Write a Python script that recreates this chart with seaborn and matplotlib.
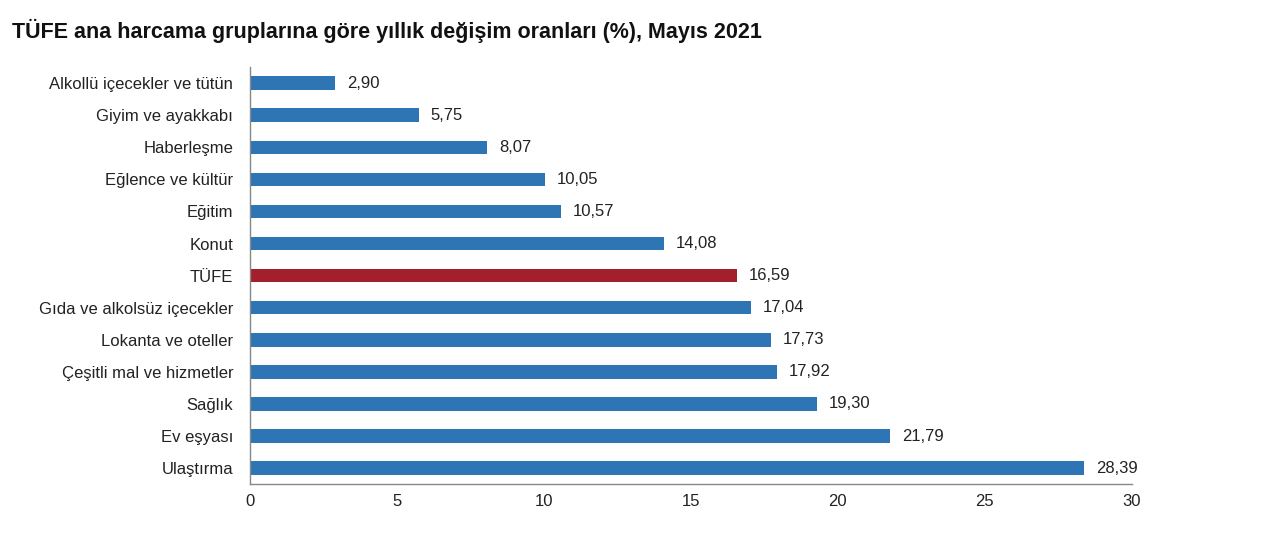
import pandas as pd
import numpy as np
import seaborn as sns
import matplotlib.pyplot as plt

categories = ["Alkollü içecekler ve tütün", "Giyim ve ayakkabı", "Haberleşme",
              "Eğlence ve kültür", "Eğitim", "Konut", "TÜFE",
              "Gıda ve alkolsüz içecekler", "Lokanta ve oteller",
              "Çeşitli mal ve hizmetler", "Sağlık", "Ev eşyası", "Ulaştırma"]
values = [2.90, 5.75, 8.07, 10.05, 10.57, 14.08, 16.59,
          17.04, 17.73, 17.92, 19.30, 21.79, 28.39]
x_ticks = [0, 5, 10, 15, 20, 25, 30]

blue = "#2E75B6"
red = "#A31F2B"

sns.set_style("white")
plt.rcParams['font.family'] = ['Liberation Sans', 'DejaVu Sans']

df = pd.DataFrame({"group": categories, "rate": values})
df["kind"] = np.where(df["group"] == "TÜFE", "tufe", "other")

fig = plt.figure(figsize=(12.8, 5.54), dpi=100)
ax = fig.add_axes([0.1953, 0.126, 0.6887, 0.753])

sns.barplot(data=df, y="group", x="rate", hue="kind", dodge=False,
            palette={"tufe": red, "other": blue}, width=0.42, saturation=1,
            legend=False, ax=ax, edgecolor="none")

for i, v in enumerate(values):
    ax.text(v + 0.4, i, f"{v:.2f}".replace(".", ","), va="center", ha="left",
            fontsize=12, color="#222222")

ax.set_xlim(0, 30)
ax.set_ylim(len(categories) - 0.5, -0.5)
ax.set_xticks(x_ticks)
ax.set_xticklabels([str(t) for t in x_ticks], fontsize=12, color="#222222")
ax.set_yticks(range(len(categories)))
ax.set_yticklabels(categories, fontsize=12, color="#222222")
ax.set_xlabel("")
ax.set_ylabel("")

# small ticks between the categories on the y axis
ax.set_yticks(np.arange(-0.5, len(categories), 1), minor=True)
ax.tick_params(axis="y", which="major", length=0, pad=12)
ax.tick_params(axis="y", which="minor", length=4, direction="out", color="#888888")
ax.tick_params(axis="x", which="major", length=4, direction="in", color="#888888", pad=7)

for side in ["top", "right"]:
    ax.spines[side].set_visible(False)
for side in ["left", "bottom"]:
    ax.spines[side].set_color("#888888")
    ax.spines[side].set_linewidth(1.0)

fig.text(0.009, 0.945, "TÜFE ana harcama gruplarına göre yıllık değişim oranları (%), Mayıs 2021",
         fontsize=15.5, fontweight="bold", ha="left", va="center", color="#111111")

fig.savefig("out.png", dpi=100, facecolor="white")
